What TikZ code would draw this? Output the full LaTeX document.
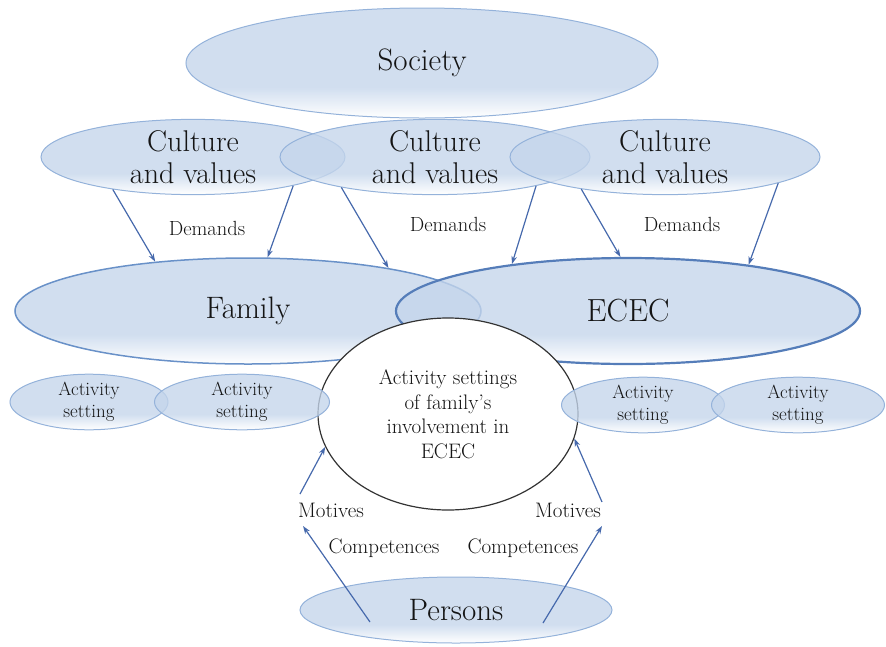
\documentclass[tikz,border=0pt]{standalone}
\usetikzlibrary{shapes.geometric,arrows.meta}
\definecolor{ellblue}{RGB}{196,213,235}
\definecolor{ellline}{RGB}{148,178,218}
\definecolor{famline}{RGB}{105,145,200}
\definecolor{darkline}{RGB}{85,125,185}
\definecolor{arrowblue}{RGB}{70,105,172}
\definecolor{txt}{RGB}{20,20,20}
\pgfdeclareverticalshading{ellshade}{100bp}{color(0bp)=(white); color(25bp)=(white); color(39bp)=(ellblue); color(100bp)=(ellblue)}
\tikzset{
  ell/.style={ellipse, inner sep=0pt, draw=ellline, line width=1pt, shade, shading=ellshade, fill opacity=0.78, text opacity=1, text=txt, align=center},
  arr/.style={draw=arrowblue, line width=1.2pt, -{Stealth[length=8pt,width=5.5pt]}},
  lbl/.style={text=txt, inner sep=1pt},
}
\begin{document}
\begin{tikzpicture}[x=1pt,y=-1pt]
\useasboundingbox (0,0) rectangle (886,646);
% society
\node[ell, minimum width=472, minimum height=110, font=\fontsize{31}{34}\selectfont] (soc) at (422,63) {Society};
% culture
\node[ell, minimum width=304, minimum height=70, font=\fontsize{30}{32}\selectfont] (c1) at (193,157) {Culture\\and values};
\node[ell, minimum width=310, minimum height=70, font=\fontsize{30}{32}\selectfont] (c2) at (435,157) {Culture\\and values};
\node[ell, minimum width=310, minimum height=70, font=\fontsize{30}{32}\selectfont] (c3) at (665,157) {Culture\\and values};
% family and ECEC
\node[ell, draw=famline, line width=1.5pt, minimum width=466, minimum height=106, font=\fontsize{31}{34}\selectfont] (fam) at (248,311) {Family};
\node[ell, draw=darkline, line width=2.2pt, minimum width=464, minimum height=106, font=\fontsize{32}{34}\selectfont] (ecec) at (628,311) {ECEC};
% central
\node[ellipse, draw=black!80, line width=1.2pt, fill=white, minimum width=260, minimum height=192, inner sep=0pt, align=center, text=txt, font=\fontsize{21}{24.5}\selectfont] (act) at (448,414) {Activity settings\\of family's\\involvement in\\ECEC};
% activity settings
\node[ell, minimum width=158, minimum height=49, font=\fontsize{19}{22}\selectfont] (as1) at (89,402) {Activity\\setting};
\node[ell, minimum width=175, minimum height=49, font=\fontsize{19}{22}\selectfont] (as2) at (242,402) {Activity\\setting};
\node[ell, minimum width=163, minimum height=50, font=\fontsize{19}{22}\selectfont] (as3) at (643,405) {Activity\\setting};
\node[ell, minimum width=173, minimum height=50, font=\fontsize{19}{22}\selectfont] (as4) at (798,405) {Activity\\setting};
% persons
\node[ell, minimum width=312, minimum height=66, font=\fontsize{31}{34}\selectfont] (per) at (456,610) {Persons};
% demands arrows
\draw[arr] (c1.202) -- (fam.152);
\draw[arr] (c1.344) -- (fam.70);
\draw[arr] (c2.198) -- (fam.17);
\draw[arr] (c2.344) -- (ecec.158);
\draw[arr] (c3.201) -- (ecec.98);
\draw[arr] (c3.347) -- (ecec.21);
\node[lbl, font=\fontsize{20.5}{22}\selectfont] (d1) at (207,228) {Demands};
\node[lbl, font=\fontsize{20.5}{22}\selectfont] (d2) at (448,224) {Demands};
\node[lbl, font=\fontsize{20.5}{22}\selectfont] (d3) at (682,224) {Demands};
% motives / competences
\node[lbl, font=\fontsize{21}{22}\selectfont] (motl) at (331,510) {Motives};
\node[lbl, font=\fontsize{21}{22}\selectfont] (motr) at (568,510) {Motives};
\node[lbl, font=\fontsize{21}{22}\selectfont] (coml) at (384,548) {Competences};
\node[lbl, font=\fontsize{21}{22}\selectfont] (comr) at (523,548) {Competences};
\coordinate (pl) at (370,622);
\coordinate (ml1) at (303,526);
\coordinate (ml2) at (300,494);
\coordinate (pr) at (543,623);
\coordinate (mr1) at (602,526);
\coordinate (mr2) at (602,502);
\draw[arr] (pl) -- (ml1);
\draw[arr] (ml2) -- (act.195);
\draw[arr] (pr) -- (mr1);
\draw[arr] (mr2) -- (act.349);
\end{tikzpicture}
\end{document}
